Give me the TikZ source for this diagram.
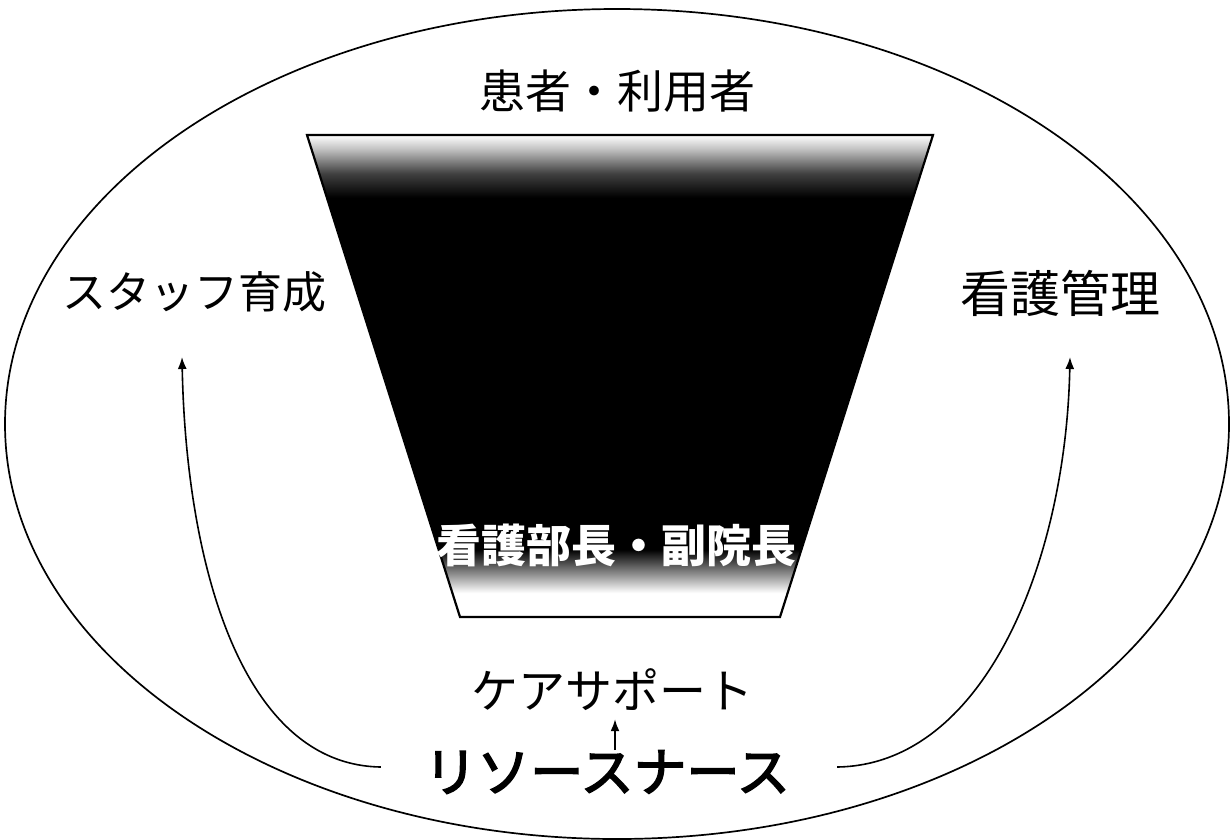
\documentclass[tikz,border=0pt]{standalone}
\usepackage{fontspec}
\newfontfamily\cjk{Noto Sans CJK JP}
\newfontfamily\cjkm[FakeBold=3]{Noto Sans CJK JP}
\usetikzlibrary{arrows.meta}
\pgfdeclareverticalshading{trapshade}{100bp}{color(0bp)=(white); color(27.5bp)=(white); color(29.5bp)=(black!45); color(32bp)=(black); color(68.5bp)=(black); color(71bp)=(black!75); color(73.5bp)=(black!25); color(75bp)=(white); color(100bp)=(white)}
\begin{document}
\begin{tikzpicture}[x=1pt,y=-1pt,
  lbl/.style={inner sep=0pt, font=\cjk\fontsize{46}{50}\selectfont},
  conn/.style={line width=1.6pt, -{Latex[length=12pt,width=9pt]}}]
\useasboundingbox (0,0) rectangle (1231,839);
\draw[line width=1.7pt] (617,424) ellipse [x radius=612, y radius=415];
\path[shading=trapshade] (307,135) -- (933,135) -- (780,617) -- (460,617) -- cycle;
\draw[line width=2.2pt, line join=miter] (307,135) -- (933,135) -- (780,617) -- (460,617) -- cycle;

\node[lbl] (pt) at (617,91) {患者・利用者};
\node[lbl, font=\cjk\fontsize{44}{48}\selectfont] (staff) at (194,292) {スタッフ育成};
\node[lbl, font=\cjk\fontsize{50}{54}\selectfont] (kango) at (1060,293) {看護管理};
\node[lbl, font=\cjk\fontsize{47}{51}\selectfont] (care) at (612,690) {ケアサポート};
\node[lbl, font=\cjkm\fontsize{53}{57}\selectfont] (rn) at (607,772) {リソースナース};
\node[lbl, text=white, font=\cjk\bfseries\fontsize{45}{49}\selectfont] (head) at (616,545) {看護部長・副院長};

\coordinate (ltip) at (182,357);
\coordinate (rtip) at (1070,357);
\draw[conn] ([xshift=-43pt,yshift=5pt]rn.west) .. controls (240,765) and (186,560) .. (ltip);
\draw[conn] ([xshift=47pt,yshift=5pt]rn.east) .. controls (985,765) and (1066,560) .. (rtip);
\draw[conn] ([xshift=8pt]rn.north) -- ([xshift=8pt,yshift=-8pt]rn.north |- care.south);
\end{tikzpicture}
\end{document}
